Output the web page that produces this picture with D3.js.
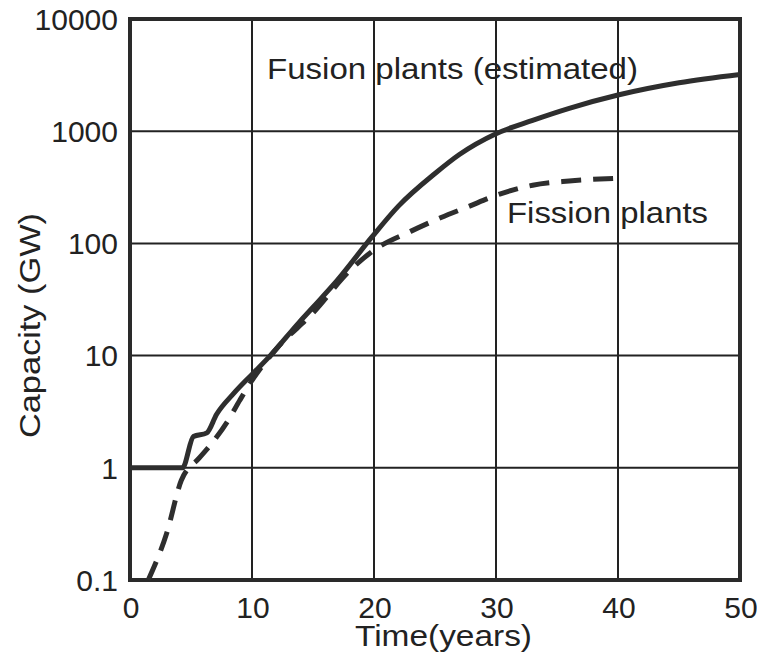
<!DOCTYPE html>
<html>
<head>
<meta charset="utf-8">
<script src="https://cdn.jsdelivr.net/npm/d3@7"></script>
<style>
  body { margin: 0; background: white; }
  text { font-family: "Liberation Sans", Arial, sans-serif; fill: #222; }
</style>
</head>
<body>
<div id="chart"></div>
<script>
var w = 757;
var h = 653;

// data
var xTicks = [0, 10, 20, 30, 40, 50];
var yTicks = [0.1, 1, 10, 100, 1000, 10000];
var yTickLabels = ["0.1", "1", "10", "100", "1000", "10000"];

var fusionYears = [0, 4.3, 5.2, 6.3, 7.1, 8.5, 10, 11.5, 13.9, 15, 17, 19.8, 22, 25, 27, 30, 33, 36, 40, 45, 50];
var fusionGW    = [1, 1, 1.9, 2.05, 3.0, 4.6, 6.8, 10, 20, 27, 47, 113, 215, 420, 620, 950, 1250, 1600, 2100, 2700, 3200];

var fissionYears = [1.5, 3, 4.2, 5.7, 6.6, 8, 9, 10, 12, 15, 18, 20, 23, 25.5, 27.6, 30.3, 33, 36, 39.7];
var fissionGW    = [0.1, 0.26, 0.77, 1.23, 1.6, 2.6, 4, 6, 11.5, 24, 57, 87, 128, 170, 210, 275, 330, 360, 380];

var plotLeft = 130, plotRight = 740, plotTop = 19, plotBottom = 580;

var svg = d3.select("#chart")
    .append("svg")
    .attr("width", w)
    .attr("height", h)
    .style("background-color", "white");

var x = d3.scaleLinear().domain([0, 50]).range([plotLeft, plotRight]);
var y = d3.scaleLog().domain([0.1, 10000]).range([plotBottom, plotTop]);

// grid
xTicks.forEach(function(t) {
    svg.append("line")
        .attr("x1", x(t)).attr("x2", x(t))
        .attr("y1", plotTop).attr("y2", plotBottom)
        .attr("stroke", "#222")
        .attr("stroke-width", 2);
});
yTicks.forEach(function(t) {
    svg.append("line")
        .attr("x1", plotLeft).attr("x2", plotRight)
        .attr("y1", y(t)).attr("y2", y(t))
        .attr("stroke", "#222")
        .attr("stroke-width", 2);
});

// frame
svg.append("rect")
    .attr("x", plotLeft).attr("y", plotTop)
    .attr("width", plotRight - plotLeft).attr("height", plotBottom - plotTop)
    .attr("fill", "none")
    .attr("stroke", "#2a2a2a")
    .attr("stroke-width", 4);

// tick labels
xTicks.forEach(function(t) {
    svg.append("text")
        .attr("x", x(t) + 1)
        .attr("y", 618)
        .attr("text-anchor", "middle")
        .style("font-size", "30px")
        .text(t);
});
yTicks.forEach(function(t, i) {
    svg.append("text")
        .attr("x", 118)
        .attr("y", y(t))
        .attr("dy", "0.36em")
        .attr("text-anchor", "end")
        .style("font-size", "30px")
        .text(yTickLabels[i]);
});

var line = d3.line()
    .x(function(d) { return x(d[0]); })
    .y(function(d) { return y(d[1]); })
    .curve(d3.curveMonotoneX);

var fusion = fusionYears.map(function(t, i) { return [t, fusionGW[i]]; });
var fission = fissionYears.map(function(t, i) { return [t, fissionGW[i]]; });

svg.append("path")
    .attr("d", line(fission))
    .attr("fill", "none")
    .attr("stroke", "#2e2e2e")
    .attr("stroke-width", 5)
    .attr("stroke-dasharray", "20,12");

svg.append("path")
    .attr("d", line(fusion))
    .attr("fill", "none")
    .attr("stroke", "#2e2e2e")
    .attr("stroke-width", 5);

// labels
svg.append("text")
    .attr("x", 267).attr("y", 79)
    .attr("textLength", 371)
    .attr("lengthAdjust", "spacingAndGlyphs")
    .style("font-size", "29px")
    .text("Fusion plants (estimated)");

svg.append("text")
    .attr("x", 507).attr("y", 223)
    .attr("textLength", 201)
    .attr("lengthAdjust", "spacingAndGlyphs")
    .style("font-size", "29px")
    .text("Fission plants");

svg.append("text")
    .attr("x", 355).attr("y", 646)
    .attr("textLength", 177)
    .attr("lengthAdjust", "spacingAndGlyphs")
    .style("font-size", "29px")
    .text("Time(years)");

svg.append("text")
    .attr("transform", "translate(40,438) rotate(-90)")
    .attr("textLength", 225)
    .attr("lengthAdjust", "spacingAndGlyphs")
    .style("font-size", "29px")
    .text("Capacity (GW)");
</script>
</body>
</html>
